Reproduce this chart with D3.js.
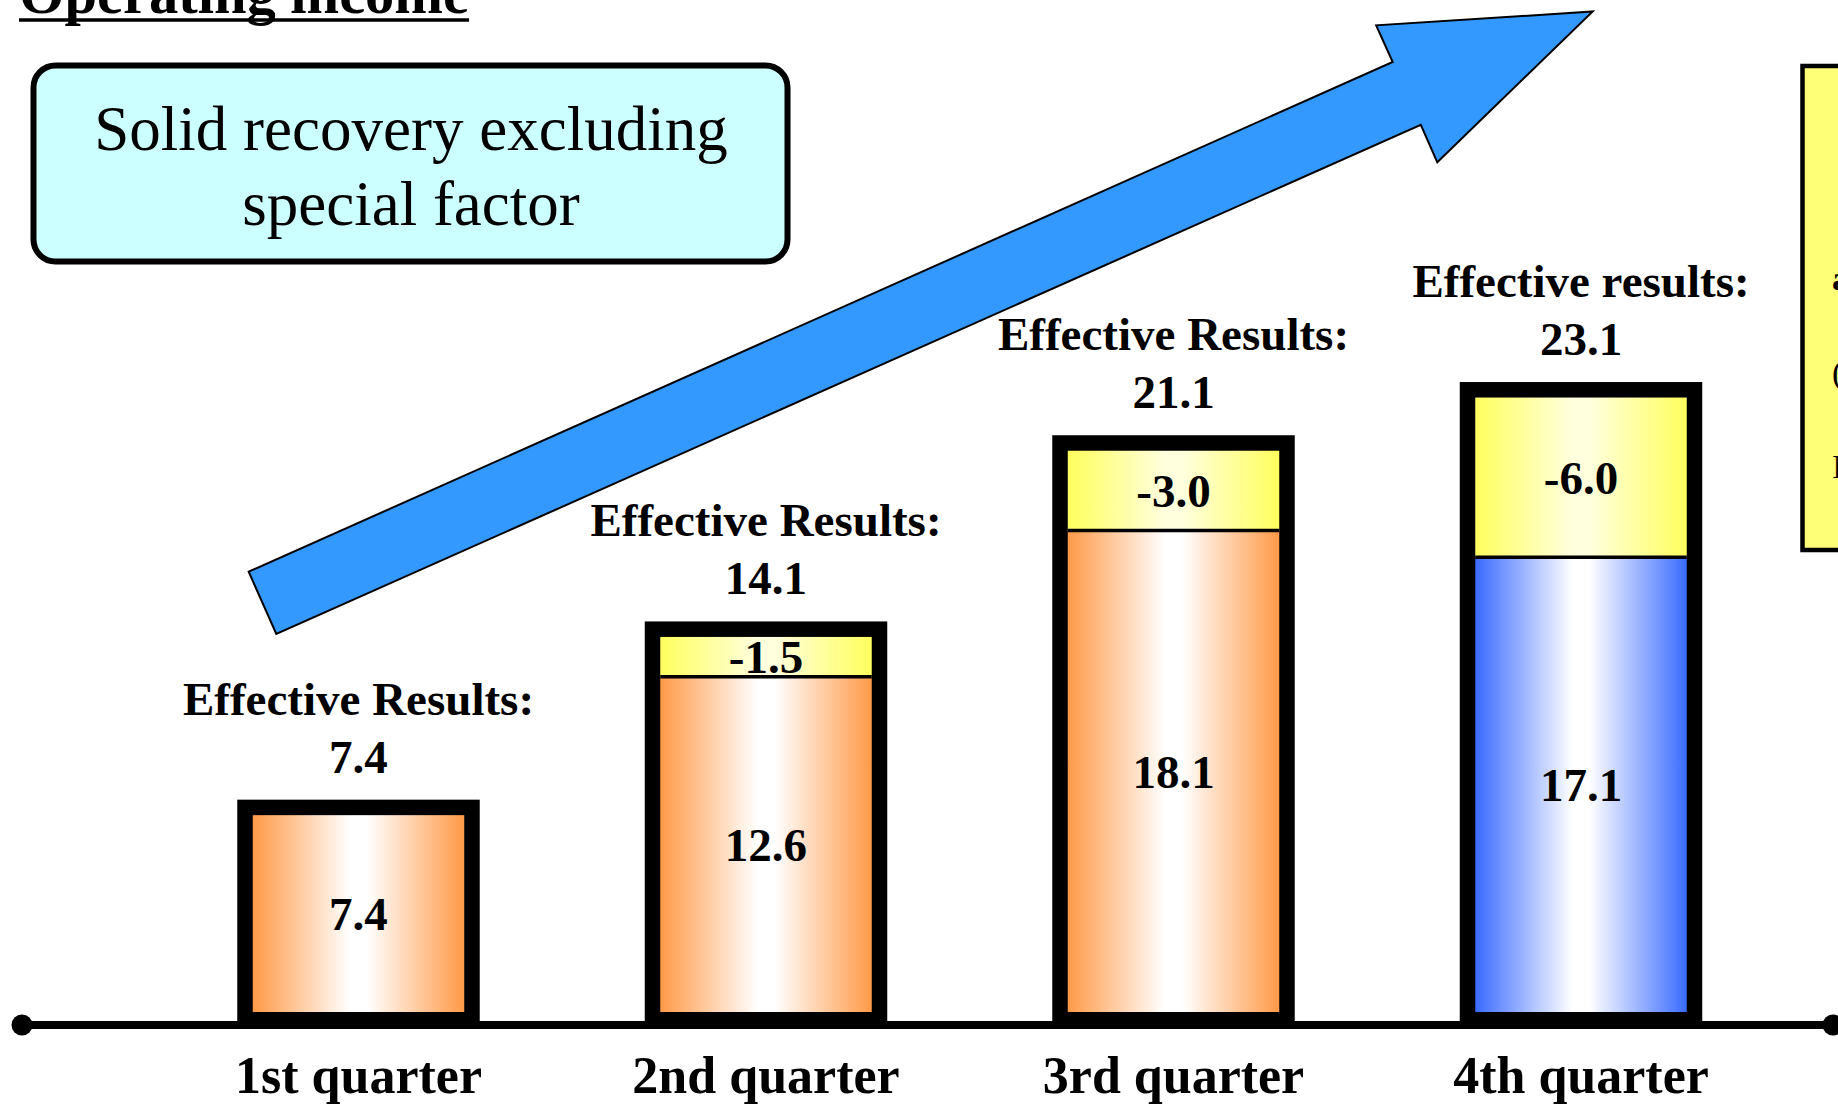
<!DOCTYPE html>
<html>
<head>
<meta charset="utf-8">
<script src="https://cdn.jsdelivr.net/npm/d3@7"></script>
<style>
  body { margin: 0; background: #fff; }
  svg { display: block; }
  text { font-family: "Liberation Serif", "Times New Roman", Times, serif; }
</style>
</head>
<body>
<script>
// ---- data -------------------------------------------------------------
const quarters = ["1st quarter", "2nd quarter", "3rd quarter", "4th quarter"];
// reported operating income per quarter
const operatingIncome = [7.4, 12.6, 18.1, 17.1];
// special factor (negative impact) per quarter
const specialFactor = [0, -1.5, -3.0, -6.0];
// operating income excluding the special factor
const effectiveResults = [7.4, 14.1, 21.1, 23.1];
const effectiveCaptions = ["Effective Results:", "Effective Results:", "Effective Results:", "Effective results:"];

const titleText = "Operating income";
const calloutLines = ["Solid recovery excluding", "special factor"];
const sideNoteLines = ["a", "(", "I"];

// ---- layout -----------------------------------------------------------
const W = 1838, H = 1104;
const border = 15.5;          // thick black frame round each stacked bar
const axisY = 1025;

const svg = d3.select("body").append("svg")
  .attr("width", W).attr("height", H)
  .attr("viewBox", `0 0 ${W} ${H}`);

const defs = svg.append("defs");
function fade(id, edge, mid) {
  const g = defs.append("linearGradient").attr("id", id)
    .attr("x1", 0).attr("x2", 1).attr("y1", 0).attr("y2", 0);
  [[0, edge], [0.46, mid], [0.54, mid], [1, edge]].forEach(([o, c]) =>
    g.append("stop").attr("offset", o).attr("stop-color", c));
}
fade("orangeFade", "#FF9A48", "#FFFFFF");
fade("yellowFade", "#FFFF5E", "#FFFFDE");
fade("blueFade", "#3A6BFF", "#FFFFFF");
const baseFill = q => q === "4th quarter" ? "url(#blueFade)" : "url(#orangeFade)";

const x = d3.scaleBand()
  .domain(quarters)
  .range([49, 1890.5])
  .paddingInner(0.481)
  .paddingOuter(0.5);

const y = d3.scaleLinear()
  .domain([0, 25])
  .range([1012, 347]);

const rows = quarters.map((q, i) => ({
  q,
  base: operatingIncome[i],
  special: specialFactor[i],
  effective: effectiveResults[i],
  caption: effectiveCaptions[i]
}));

// plain hyphen for negatives, one decimal place
const valueFmt = v => v.toFixed(1);

// ---- title ------------------------------------------------------------
const title = svg.append("text")
  .attr("x", 19).attr("y", 13)
  .attr("font-size", 58.5).attr("font-weight", "bold")
  .attr("fill", "#000")
  .text(titleText);
const tLen = title.node().getComputedTextLength();
svg.append("line")
  .attr("x1", 19).attr("x2", 19 + tLen)
  .attr("y1", 20).attr("y2", 20)
  .attr("stroke", "#000").attr("stroke-width", 3.5);

// ---- callout box ------------------------------------------------------
svg.append("rect")
  .attr("x", 33.5).attr("y", 65.5)
  .attr("width", 754).attr("height", 196)
  .attr("rx", 22).attr("ry", 22)
  .attr("fill", "#CCFFFF")
  .attr("stroke", "#000").attr("stroke-width", 6);
svg.append("g").selectAll("text")
  .data(calloutLines)
  .join("text")
  .attr("x", 411)
  .attr("y", (d, i) => 150 + i * 75)
  .attr("text-anchor", "middle")
  .attr("font-size", 63)
  .attr("fill", "#000")
  .text(d => d);

// ---- upward trend arrow ----------------------------------------------
const arrowPts = [
  [248.7, 571.7], [1392.7, 62], [1376.2, 25.3], [1592.7, 11.5],
  [1437.3, 162.3], [1420.8, 124.8], [276.3, 634]
];
svg.append("path")
  .attr("d", d3.line()(arrowPts) + "Z")
  .attr("fill", "#3399FF")
  .attr("stroke", "#000")
  .attr("stroke-width", 2)
  .attr("stroke-linejoin", "miter");

// ---- side note box (runs off the right edge) -------------------------
svg.append("rect")
  .attr("x", 1802.5).attr("y", 66)
  .attr("width", 200).attr("height", 484)
  .attr("fill", "#FFFF77")
  .attr("stroke", "#000").attr("stroke-width", 4.5);
svg.append("g").selectAll("text")
  .data(sideNoteLines)
  .join("text")
  .attr("x", 1832)
  .attr("y", (d, i) => 290 + i * 94)
  .attr("font-size", 34)
  .attr("font-weight", (d, i) => i === 0 ? "bold" : "normal")
  .attr("fill", "#000")
  .text(d => d);

// ---- stacked bars -----------------------------------------------------
const bw = x.bandwidth();
const bars = svg.append("g").selectAll("g")
  .data(rows)
  .join("g");

const topOf = d => d.base + Math.abs(d.special);

// black frame
bars.append("rect")
  .attr("x", d => x(d.q) - border)
  .attr("y", d => y(topOf(d)) - border)
  .attr("width", bw + 2 * border)
  .attr("height", d => y(0) - y(topOf(d)) + 2 * border)
  .attr("fill", "#000");

// operating income segment
bars.append("rect")
  .attr("x", d => x(d.q))
  .attr("y", d => y(d.base))
  .attr("width", bw)
  .attr("height", d => y(0) - y(d.base))
  .attr("fill", d => baseFill(d.q));

// special factor segment
const withSpecial = bars.filter(d => d.special !== 0);
withSpecial.append("rect")
  .attr("x", d => x(d.q))
  .attr("y", d => y(topOf(d)))
  .attr("width", bw)
  .attr("height", d => y(d.base) - y(topOf(d)))
  .attr("fill", "url(#yellowFade)");
withSpecial.append("line")
  .attr("x1", d => x(d.q)).attr("x2", d => x(d.q) + bw)
  .attr("y1", d => y(d.base)).attr("y2", d => y(d.base))
  .attr("stroke", "#000").attr("stroke-width", 3.5);

bars.append("text")
  .attr("x", d => x(d.q) + bw / 2)
  .attr("y", d => (y(0) + y(d.base)) / 2)
  .attr("dy", "0.35em")
  .attr("text-anchor", "middle")
  .attr("font-size", 47).attr("font-weight", "bold")
  .text(d => valueFmt(d.base));

withSpecial.append("text")
  .attr("x", d => x(d.q) + bw / 2)
  .attr("y", d => (y(d.base) + y(topOf(d))) / 2)
  .attr("dy", "0.35em")
  .attr("text-anchor", "middle")
  .attr("font-size", 47).attr("font-weight", "bold")
  .text(d => valueFmt(d.special));

// effective results above each bar
bars.append("text")
  .attr("x", d => x(d.q) + bw / 2)
  .attr("y", d => y(topOf(d)) - border - 27)
  .attr("text-anchor", "middle")
  .attr("font-size", 47).attr("font-weight", "bold")
  .text(d => valueFmt(d.effective));
bars.append("text")
  .attr("x", d => x(d.q) + bw / 2)
  .attr("y", d => y(topOf(d)) - border - 27 - 58)
  .attr("text-anchor", "middle")
  .attr("font-size", 47).attr("font-weight", "bold")
  .text(d => d.caption);

// ---- baseline axis ----------------------------------------------------
const axisG = svg.append("g")
  .attr("transform", `translate(0,${axisY})`)
  .call(d3.axisBottom(x).tickSize(0));
axisG.select(".domain").remove();
axisG.selectAll("text")
  .attr("y", 68).attr("dy", 0)
  .attr("fill", "#000")
  .attr("font-size", 52).attr("font-weight", "bold")
  .attr("font-family", '"Liberation Serif", "Times New Roman", Times, serif');

axisG.append("line")
  .attr("x1", 22).attr("x2", 1833)
  .attr("y1", 0).attr("y2", 0)
  .attr("stroke", "#000").attr("stroke-width", 8);
axisG.selectAll("circle.end")
  .data([22, 1833])
  .join("circle")
  .attr("class", "end")
  .attr("cx", d => d).attr("cy", 0).attr("r", 10.5)
  .attr("fill", "#000");
</script>
</body>
</html>
